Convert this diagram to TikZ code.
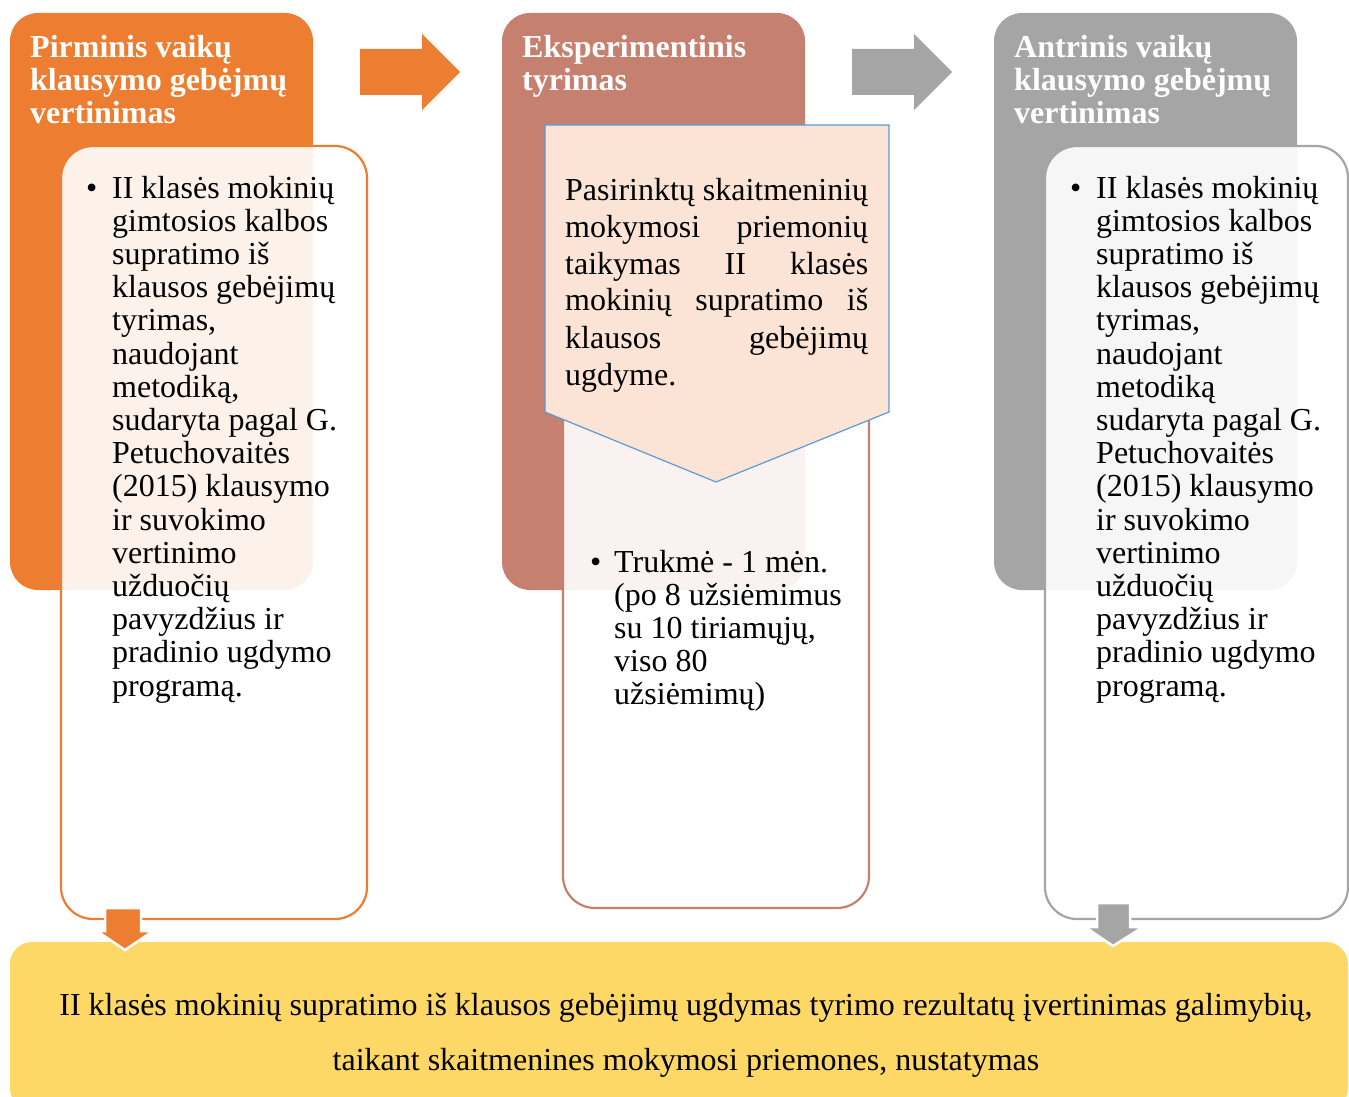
\documentclass[tikz,border=0pt]{standalone}
\usepackage{fontspec}
\setmainfont{Liberation Serif}
\definecolor{corange}{HTML}{ED7D31}
\definecolor{cbrown}{HTML}{C5806F}
\definecolor{cgrey}{HTML}{A5A5A5}
\definecolor{cyellow}{HTML}{FED866}
\definecolor{cpeach}{HTML}{FBE4D5}
\definecolor{cblue}{HTML}{5B9BD5}
\begin{document}
\begin{tikzpicture}[x=1pt,y=-1pt,
  outerbox/.style={rounded corners=28pt},
  innerbox/.style={rounded corners=32pt, fill=white, fill opacity=0.9, line width=2.2pt},
  titletext/.style={anchor=base west, inner sep=0pt, text=white, font=\bfseries\fontsize{32}{33}\selectfont},
  bodytext/.style={anchor=base west, inner sep=0pt, font=\fontsize{32}{33.2}\selectfont},
  blockarrow/.style={draw=white, line width=2.5pt, line join=miter}
]
\useasboundingbox (0,0) rectangle (1349,1097);
% outer boxes
\fill[corange, outerbox] (10,13) rectangle (313,590);
\fill[cbrown, outerbox] (502,13) rectangle (805,590);
\fill[cgrey, outerbox] (994,13) rectangle (1297,590);
% right arrows
\fill[corange] (360,49) -- (422,49) -- (422,34) -- (460,72) -- (422,110) -- (422,95) -- (360,95) -- cycle;
\fill[cgrey] (852,49) -- (914,49) -- (914,34) -- (952,72) -- (914,110) -- (914,95) -- (852,95) -- cycle;
% titles
\node[titletext] (t1) at (30,58) {\parbox[t]{280pt}{Pirminis vaikų\\klausymo gebėjmų\\vertinimas}};
\node[titletext] (t2) at (522,58) {\parbox[t]{280pt}{Eksperimentinis\\tyrimas}};
\node[titletext] (t3) at (1014,58) {\parbox[t]{280pt}{Antrinis vaikų\\klausymo gebėjmų\\vertinimas}};
% inner boxes
\draw[innerbox, draw=corange] (61,146) rectangle (367,919);
\draw[innerbox, draw=cbrown] (563,146) rectangle (869,908);
\draw[innerbox, draw=cgrey] (1045,146) rectangle (1348,919);
% pentagon
\draw[fill=cpeach, draw=cblue, line width=1.2pt] (545,125) -- (889,125) -- (889,412) -- (716,482) -- (545,412) -- cycle;
% bottom box
\fill[cyellow, rounded corners=22pt] (10,942) rectangle (1348,1110);
% down arrows
\draw[blockarrow, fill=corange] (105,908) -- (141,908) -- (141,931) -- (153,931) -- (125,950) -- (97,931) -- (105,931) -- cycle;
\draw[blockarrow, fill=cgrey] (1097,903) -- (1130,903) -- (1130,927) -- (1143,927) -- (1113,946) -- (1085,927) -- (1097,927) -- cycle;
% body texts
\node[bodytext] (b1) at (86,198) {\parbox[t]{290pt}{\hangindent=26pt\hangafter=1\makebox[26pt][l]{•}II klasės mokinių\\gimtosios kalbos\\supratimo iš\\klausos gebėjimų\\tyrimas,\\naudojant\\metodiką,\\sudaryta pagal G.\\Petuchovaitės\\(2015) klausymo\\ir suvokimo\\vertinimo\\užduočių\\pavyzdžius ir\\pradinio ugdymo\\programą.}};
\node[bodytext, font=\fontsize{32}{37}\selectfont] (p) at (565,200) {\parbox[t]{303pt}{\makebox[303pt][s]{Pasirinktų skaitmeninių}\\\makebox[303pt][s]{mokymosi priemonių}\\\makebox[303pt][s]{taikymas II klasės}\\\makebox[303pt][s]{mokinių supratimo iš}\\\makebox[303pt][s]{klausos gebėjimų}\\ugdyme.}};
\node[bodytext] (b2) at (590,572) {\parbox[t]{280pt}{\hangindent=24pt\hangafter=1\makebox[24pt][l]{•}Trukmė - 1 mėn.\\(po 8 užsiėmimus\\su 10 tiriamųjų,\\viso 80\\užsiėmimų)}};
\node[bodytext] (b3) at (1070,198) {\parbox[t]{290pt}{\hangindent=26pt\hangafter=1\makebox[26pt][l]{•}II klasės mokinių\\gimtosios kalbos\\supratimo iš\\klausos gebėjimų\\tyrimas,\\naudojant\\metodiką\\sudaryta pagal G.\\Petuchovaitės\\(2015) klausymo\\ir suvokimo\\vertinimo\\užduočių\\pavyzdžius ir\\pradinio ugdymo\\programą.}};
\node[anchor=base, inner sep=0pt, font=\fontsize{32}{55}\selectfont] (r) at (686,1015) {\parbox[t]{1320pt}{\centering II klasės mokinių supratimo iš klausos gebėjimų ugdymas tyrimo rezultatų įvertinimas galimybių,\\taikant skaitmenines mokymosi priemones, nustatymas}};
\end{tikzpicture}
\end{document}
